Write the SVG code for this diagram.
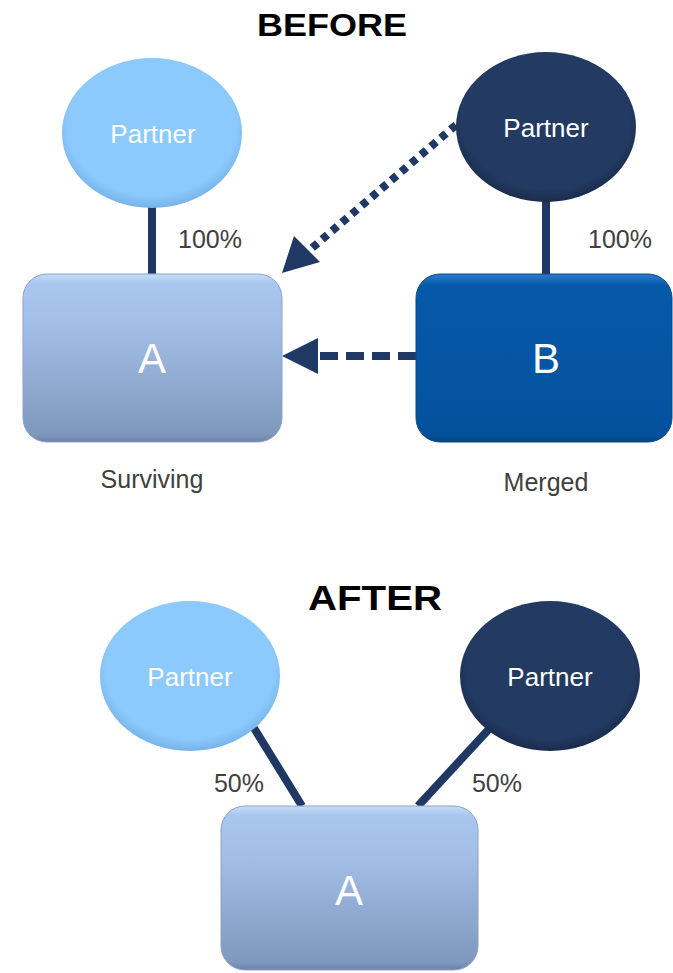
<svg xmlns="http://www.w3.org/2000/svg" width="673" height="973" viewBox="0 0 673 973">
<defs>
<linearGradient id="gLight" x1="0" y1="0" x2="0" y2="1">
<stop offset="0" stop-color="#c4dcf8"/>
<stop offset="0.06" stop-color="#a9c6ef"/>
<stop offset="0.3" stop-color="#a3bfe8"/>
<stop offset="0.95" stop-color="#7f98bd"/>
<stop offset="1" stop-color="#6d84a8"/>
</linearGradient>
<linearGradient id="gDark" x1="0" y1="0" x2="0" y2="1">
<stop offset="0" stop-color="#2a7ccc"/>
<stop offset="0.07" stop-color="#0659a8"/>
<stop offset="0.95" stop-color="#04529e"/>
<stop offset="1" stop-color="#03457f"/>
</linearGradient>
<radialGradient id="gEL" cx="0.5" cy="0.45" r="0.55">
<stop offset="0.85" stop-color="#8cc9fd"/>
<stop offset="1" stop-color="#76b3e8"/>
</radialGradient>
<radialGradient id="gED" cx="0.5" cy="0.45" r="0.55">
<stop offset="0.85" stop-color="#233a62"/>
<stop offset="1" stop-color="#1a2c4c"/>
</radialGradient>
</defs>
<style>
.t{font-family:"Liberation Sans",Arial,sans-serif}
.h{font-weight:bold;fill:#000;text-anchor:middle}
.pl{font-size:26px;fill:#fff;text-anchor:middle}
.bl{font-size:42px;fill:#fff;text-anchor:middle}
.lb{font-size:25px;fill:#404040;text-anchor:middle}
.ln{stroke:#1f3864;stroke-width:8;fill:none}
.light{fill:url(#gLight);stroke:#8aa4c8;stroke-width:1}
.dark{fill:url(#gDark);stroke:#0b4a8a;stroke-width:1}
</style>

<text class="t h" x="332" y="36" font-size="32" textLength="150" lengthAdjust="spacingAndGlyphs">BEFORE</text>
<text class="t h" x="375" y="610" font-size="35" textLength="134" lengthAdjust="spacingAndGlyphs">AFTER</text>

<g id="connectors">
<line class="ln" x1="152" y1="205" x2="152" y2="276"/>
<line class="ln" x1="546" y1="200" x2="546" y2="276"/>
<line class="ln" x1="456" y1="125" x2="312" y2="248" stroke-dasharray="7,6"/>
<path d="M282,273 L294,236 L320,262 Z" fill="#1f3864"/>
<line class="ln" x1="416" y1="356" x2="316" y2="356" stroke-dasharray="18,8"/>
<path d="M282,356 L318,338 L318,374 Z" fill="#1f3864"/>
<line class="ln" x1="254" y1="728" x2="302" y2="806"/>
<line class="ln" x1="490" y1="728" x2="418" y2="806"/>
</g>

<g id="partnerBeforeLeft">
<ellipse cx="152" cy="133" rx="90" ry="75" fill="url(#gEL)"/>
<text class="t pl" x="153" y="143">Partner</text>
</g>
<g id="partnerBeforeRight">
<ellipse cx="546" cy="127" rx="90" ry="75" fill="url(#gED)"/>
<text class="t pl" x="546" y="137">Partner</text>
</g>
<g id="boxA">
<rect class="light" x="23" y="274" width="259" height="168" rx="24"/>
<text class="t bl" x="152" y="373">A</text>
</g>
<g id="boxB">
<rect class="dark" x="416" y="274" width="256" height="168" rx="24"/>
<text class="t bl" x="546" y="373">B</text>
</g>
<text class="t lb" x="210" y="248">100%</text>
<text class="t lb" x="620" y="248">100%</text>
<text class="t lb" x="152" y="488">Surviving</text>
<text class="t lb" x="546" y="491">Merged</text>

<g id="partnerAfterLeft">
<ellipse cx="190" cy="676" rx="90" ry="75" fill="url(#gEL)"/>
<text class="t pl" x="190" y="686">Partner</text>
</g>
<g id="partnerAfterRight">
<ellipse cx="550" cy="676" rx="90" ry="75" fill="url(#gED)"/>
<text class="t pl" x="550" y="686">Partner</text>
</g>
<g id="boxAfter">
<rect class="light" x="221" y="806" width="257" height="164" rx="24"/>
<text class="t bl" x="349" y="905">A</text>
</g>
<text class="t lb" x="239" y="792">50%</text>
<text class="t lb" x="497" y="792">50%</text>
</svg>
